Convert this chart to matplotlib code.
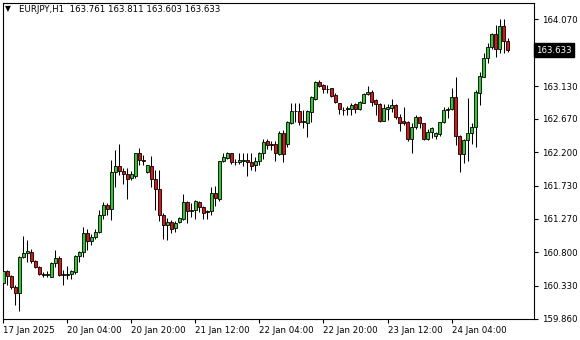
import matplotlib
matplotlib.use("Agg")
import matplotlib.pyplot as plt
import numpy as np

# EURJPY H1 candles
opens = [160.365, 160.533, 160.468, 160.313, 160.225, 160.730, 160.781, 160.800, 160.674, 160.594,
         160.487, 160.477, 160.449, 160.646, 160.720, 160.477, 160.487, 160.487, 160.515, 160.739,
         160.805, 161.066, 160.950, 161.006, 161.081, 161.319, 161.459, 161.403, 161.922, 162.011,
         161.941, 161.899, 161.838, 161.871, 162.189, 162.090, 161.922, 162.011, 161.824, 161.684,
         161.319, 161.174, 161.216, 161.136, 161.216, 161.263, 161.501, 161.370, 161.384, 161.506,
         161.431, 161.370, 161.380, 161.628, 161.548, 162.072, 162.128, 162.189, 162.067, 162.058,
         162.086, 162.095, 162.067, 162.016, 162.072, 162.189, 162.361, 162.315, 162.315, 162.179,
         162.478, 162.315, 162.609, 162.778, 162.782, 162.642, 162.619, 162.773, 162.951, 163.189,
         163.147, 163.096, 163.100, 163.012, 162.890, 162.801, 162.806, 162.806, 162.881, 162.806,
         162.899, 163.016, 163.054, 162.937, 162.881, 162.647, 162.815, 162.830, 162.862, 162.703,
         162.643, 162.633, 162.381, 162.554, 162.703, 162.610, 162.390, 162.484, 162.437, 162.460,
         162.624, 162.792, 162.806, 162.975, 162.432, 162.180, 162.367, 162.470, 162.554, 163.031,
         163.265, 163.522, 163.676, 163.863, 163.648, 163.976, 163.761]
highs = [160.561, 160.552, 160.482, 160.342, 160.744, 161.029, 160.973, 160.842, 160.692, 160.608,
         160.515, 160.529, 160.655, 160.833, 160.739, 160.552, 160.599, 160.543, 160.762, 160.819,
         161.151, 161.127, 161.052, 161.123, 161.389, 161.506, 161.487, 162.095, 162.236, 162.320,
         161.978, 161.978, 161.932, 162.198, 162.259, 162.165, 162.025, 162.151, 161.955, 161.955,
         161.347, 161.277, 161.244, 161.230, 161.291, 161.613, 161.520, 161.487, 161.534, 161.520,
         161.440, 161.394, 161.712, 161.730, 162.081, 162.198, 162.212, 162.198, 162.104, 162.198,
         162.198, 162.198, 162.189, 162.142, 162.212, 162.385, 162.385, 162.366, 162.366, 162.506,
         162.516, 162.642, 162.890, 162.899, 162.890, 162.796, 162.796, 162.993, 163.203, 163.217,
         163.161, 163.147, 163.105, 163.030, 162.899, 162.843, 162.853, 162.899, 162.899, 162.918,
         163.035, 163.133, 163.077, 162.955, 162.899, 162.881, 162.881, 162.947, 162.876, 162.741,
         162.834, 162.643, 162.610, 162.722, 162.713, 162.619, 162.526, 162.563, 162.493, 162.633,
         162.844, 162.834, 163.101, 163.255, 162.446, 162.385, 162.961, 162.610, 163.078, 163.335,
         163.601, 163.742, 163.882, 163.990, 164.069, 164.069, 163.811]
lows = [160.248, 160.332, 160.285, 160.052, 159.967, 160.716, 160.655, 160.646, 160.571, 160.473,
        160.449, 160.449, 160.444, 160.585, 160.468, 160.332, 160.426, 160.426, 160.496, 160.655,
        160.730, 160.833, 160.903, 160.982, 161.071, 161.268, 161.319, 161.254, 161.707, 161.880,
        161.749, 161.543, 161.815, 161.838, 162.025, 162.025, 161.913, 161.707, 161.394, 161.230,
        160.982, 160.963, 161.066, 161.075, 161.206, 161.253, 161.206, 161.291, 161.263, 161.356,
        161.267, 161.263, 161.314, 161.454, 161.520, 162.058, 162.104, 162.039, 162.025, 162.034,
        162.002, 161.871, 161.955, 161.941, 162.025, 162.104, 162.245, 162.235, 162.086, 162.165,
        162.058, 162.282, 162.595, 162.633, 162.586, 162.539, 162.422, 162.623, 162.937, 163.124,
        163.030, 163.030, 162.984, 162.899, 162.736, 162.726, 162.726, 162.726, 162.750, 162.796,
        162.890, 163.007, 162.857, 162.726, 162.628, 162.642, 162.656, 162.774, 162.675, 162.507,
        162.586, 162.353, 162.198, 162.526, 162.540, 162.367, 162.367, 162.409, 162.385, 162.432,
        162.610, 162.680, 162.797, 162.306, 161.918, 162.049, 162.086, 162.315, 162.273, 162.872,
        163.255, 163.461, 163.648, 163.545, 163.592, 163.592, 163.603]
closes = [160.538, 160.458, 160.304, 160.225, 160.734, 160.786, 160.814, 160.674, 160.585, 160.487,
          160.477, 160.487, 160.646, 160.720, 160.477, 160.487, 160.482, 160.533, 160.748, 160.805,
          161.066, 160.950, 161.010, 161.081, 161.319, 161.459, 161.403, 161.922, 162.011, 161.941,
          161.890, 161.833, 161.890, 162.189, 162.090, 162.086, 162.020, 161.824, 161.684, 161.314,
          161.174, 161.221, 161.122, 161.206, 161.277, 161.501, 161.370, 161.389, 161.511, 161.426,
          161.347, 161.361, 161.628, 161.553, 162.076, 162.133, 162.189, 162.067, 162.067, 162.095,
          162.090, 162.058, 162.002, 162.081, 162.198, 162.348, 162.301, 162.305, 162.188, 162.478,
          162.179, 162.628, 162.782, 162.787, 162.633, 162.628, 162.782, 162.984, 163.189, 163.138,
          163.086, 163.091, 162.998, 162.913, 162.806, 162.792, 162.820, 162.867, 162.806, 162.904,
          163.021, 163.044, 162.913, 162.876, 162.642, 162.820, 162.834, 162.862, 162.694, 162.619,
          162.619, 162.381, 162.554, 162.703, 162.610, 162.390, 162.493, 162.540, 162.470, 162.624,
          162.797, 162.816, 162.975, 162.432, 162.180, 162.376, 162.470, 162.554, 163.045, 163.274,
          163.522, 163.676, 163.863, 163.648, 163.976, 163.761, 163.633]

price_ticks = [159.860, 160.330, 160.800, 161.270, 161.730, 162.200, 162.670, 163.130, 164.070]
time_tick_bars = [0, 16, 32, 48, 64, 80, 96, 112]
time_labels = ["17 Jan 2025", "20 Jan 04:00", "20 Jan 20:00", "21 Jan 12:00",
               "22 Jan 04:00", "22 Jan 20:00", "23 Jan 12:00", "24 Jan 04:00"]
last_price = 163.633
header = "EURJPY,H1  163.761 163.811 163.603 163.633"

bull_color = '#32c832'
bear_color = '#dc1414'

o = np.array(opens)
h = np.array(highs)
l = np.array(lows)
c = np.array(closes)
x = np.arange(len(o))

fig = plt.figure(figsize=(5.8, 3.4), dpi=100)
ax = fig.add_axes([2.5 / 580, 21 / 340, 531.5 / 580, 316 / 340])

# wicks
ax.vlines(x, l, h, color='black', linewidth=0.75)
# bodies
colors = [bull_color if cc >= oo else bear_color for oo, cc in zip(o, c)]
ax.bar(x, np.abs(c - o), bottom=np.minimum(o, c), width=0.65,
       color=colors, edgecolor='black', linewidth=0.6, zorder=3)

ax.set_xlim(-0.2, 132.6)
ax.set_ylim(159.862, 164.298)

ax.yaxis.tick_right()
ax.set_yticks(price_ticks)
ax.set_yticklabels([f"{p:.3f}" for p in price_ticks])
ax.set_xticks(time_tick_bars)
ax.set_xticklabels(time_labels)
for lab in ax.get_xticklabels():
    lab.set_horizontalalignment('left')
ax.tick_params(axis='both', length=3, width=0.8, color='black', labelsize=6.2, pad=2)
ax.tick_params(axis='y', pad=3)

for s in ax.spines.values():
    s.set_linewidth(0.8)
    s.set_color('black')

# current price tag
ax.text(1.004, last_price, "163.633", transform=ax.get_yaxis_transform(),
        color='white', fontsize=6.2, va='center', ha='left',
        bbox=dict(boxstyle='square,pad=0.3', facecolor='black', edgecolor='black'))

# header
fig.text(5 / 580, 1 - 9 / 340, "\u25bc", fontsize=5.5, va='center', ha='left')
fig.text(19 / 580, 1 - 9 / 340, header, fontsize=6.2, va='center', ha='left')

fig.savefig("out.png", dpi=100)
